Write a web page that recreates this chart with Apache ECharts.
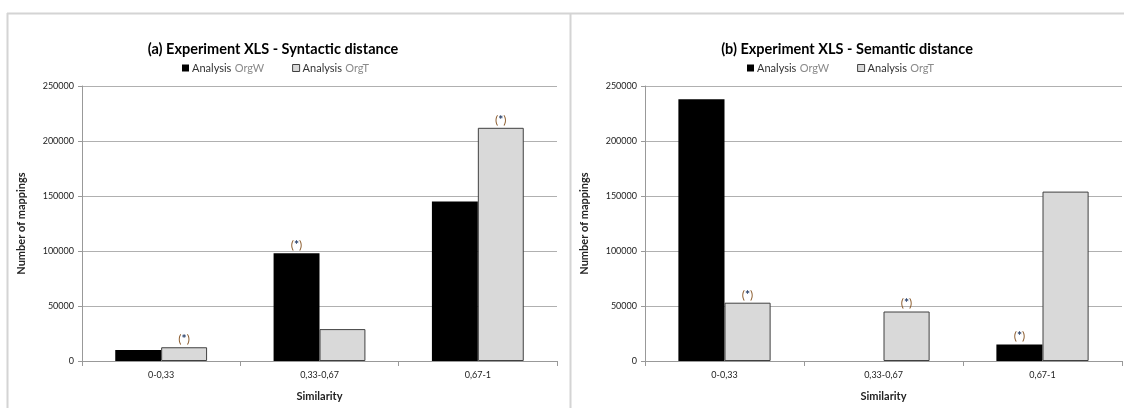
<!DOCTYPE html>
<html>
<head>
<meta charset="utf-8">
<script src="https://cdn.jsdelivr.net/npm/echarts@6/dist/echarts.min.js"></script>
<style>
html,body{margin:0;padding:0;background:#fff;}
#main{width:1124px;height:408px;}
</style>
</head>
<body>
<div id="main"></div>
<script>
// ---- data ----
const categories = ['0-0,33', '0,33-0,67', '0,67-1'];
const titleA = '(a) Experiment XLS - Syntactic distance';
const titleB = '(b) Experiment XLS - Semantic distance';
const seriesNames = ['Analysis OrgW', 'Analysis OrgT'];
const synOrgW = [10000, 98000, 145000];
const synOrgT = [12500, 29000, 212000];
const semOrgW = [238000, 0, 15000];
const semOrgT = [53000, 45000, 154000];
// which bars carry the "(*)" mark
const synStarW = [false, true, false];
const synStarT = [true, false, true];
const semStarW = [false, false, true];
const semStarT = [true, true, false];
const yTicks = [0, 50000, 100000, 150000, 200000, 250000];

const FONT = 'Lato, "Open Sans", sans-serif';
const starLabel = {
  show: true, position: 'top', distance: 2,
  formatter: '{p|(}{s|*}{p|)}',
  rich: {
    p: {color: '#8a5a2b', fontSize: 12, fontFamily: FONT},
    s: {color: '#1f3864', fontSize: 12, fontFamily: FONT, fontWeight: 'bold'}
  }
};
function build(vals, stars) {
  return vals.map((v, i) => stars[i] ? {value: v, label: starLabel} : {value: v});
}
function xAxis(gi) {
  return {
    type: 'category', gridIndex: gi, data: categories,
    name: 'Similarity', nameLocation: 'middle', nameGap: 30,
    nameTextStyle: {fontFamily: FONT, fontSize: 11, fontWeight: 'bold', color: '#222'},
    axisLine: {lineStyle: {color: '#999', width: 1}},
    axisTick: {show: true, length: 5, lineStyle: {color: '#999'}},
    axisLabel: {fontFamily: FONT, fontSize: 9, color: '#222', margin: 10}
  };
}
function yAxis(gi) {
  return {
    type: 'value', gridIndex: gi, min: 0, max: 250000, interval: 50000,
    name: 'Number of mappings', nameLocation: 'middle', nameGap: 55,
    nameTextStyle: {fontFamily: FONT, fontSize: 11, fontWeight: 'bold', color: '#222'},
    axisLine: {show: true, lineStyle: {color: '#999', width: 1}},
    axisTick: {show: true, length: 4, lineStyle: {color: '#999'}},
    splitLine: {lineStyle: {color: '#b0b0b0', width: 1}},
    axisLabel: {fontFamily: FONT, fontSize: 9, color: '#222', margin: 8,
      formatter: v => yTicks.includes(v) ? String(v) : ''}
  };
}
const blackStyle = {color: '#000'};
const grayStyle = {color: '#d9d9d9', borderColor: '#404040', borderWidth: 1};
function legend(left) {
  return {
    left: left, top: 57, itemWidth: 7, itemHeight: 7, itemGap: 28, icon: 'rect',
    data: [
      {name: seriesNames[0], itemStyle: {color: '#000'}},
      {name: seriesNames[1], itemStyle: {color: '#d9d9d9', borderColor: '#404040', borderWidth: 1}}
    ],
    formatter: n => '{a|Analysis} {b|' + n.split(' ')[1] + '}',
    textStyle: {padding: [0, 0, 0, -2], rich: {
      a: {fontFamily: FONT, fontSize: 11, color: '#333'},
      b: {fontFamily: FONT, fontSize: 11, color: '#8a8a8a'}
    }}
  };
}
const chart = echarts.init(document.getElementById('main'), null, {renderer: 'canvas'});
chart.setOption({
  animation: false,
  backgroundColor: '#fff',
  title: [
    {text: titleA, left: 268, top: 37, textAlign: 'center',
     textStyle: {fontFamily: FONT, fontSize: 14.5, fontWeight: 'bold', color: '#000'}},
    {text: titleB, left: 842, top: 37, textAlign: 'center',
     textStyle: {fontFamily: FONT, fontSize: 14.5, fontWeight: 'bold', color: '#000'}}
  ],
  legend: [legend(177), legend(742)],
  grid: [
    {left: 82, top: 86, width: 475, height: 275},
    {left: 645, top: 86, width: 477, height: 275}
  ],
  xAxis: [xAxis(0), xAxis(1)],
  yAxis: [yAxis(0), yAxis(1)],
  series: [
    {name: seriesNames[0], type: 'bar', xAxisIndex: 0, yAxisIndex: 0, data: build(synOrgW, synStarW),
     itemStyle: blackStyle, barGap: '0%', barCategoryGap: '42%'},
    {name: seriesNames[1], type: 'bar', xAxisIndex: 0, yAxisIndex: 0, data: build(synOrgT, synStarT),
     itemStyle: grayStyle, barGap: '0%', barCategoryGap: '42%'},
    {name: seriesNames[0], type: 'bar', xAxisIndex: 1, yAxisIndex: 1, data: build(semOrgW, semStarW),
     itemStyle: blackStyle, barGap: '0%', barCategoryGap: '42%'},
    {name: seriesNames[1], type: 'bar', xAxisIndex: 1, yAxisIndex: 1, data: build(semOrgT, semStarT),
     itemStyle: grayStyle, barGap: '0%', barCategoryGap: '42%'}
  ],
  graphic: [
    {type: 'line', shape: {x1: 7, y1: 13.5, x2: 1124, y2: 13.5}, style: {stroke: '#d4d4d4', lineWidth: 2}, silent: true},
    {type: 'line', shape: {x1: 7.5, y1: 13, x2: 7.5, y2: 408}, style: {stroke: '#d4d4d4', lineWidth: 2}, silent: true},
    {type: 'line', shape: {x1: 570.5, y1: 13, x2: 570.5, y2: 408}, style: {stroke: '#d4d4d4', lineWidth: 2}, silent: true}
  ]
});
</script>
</body>
</html>
